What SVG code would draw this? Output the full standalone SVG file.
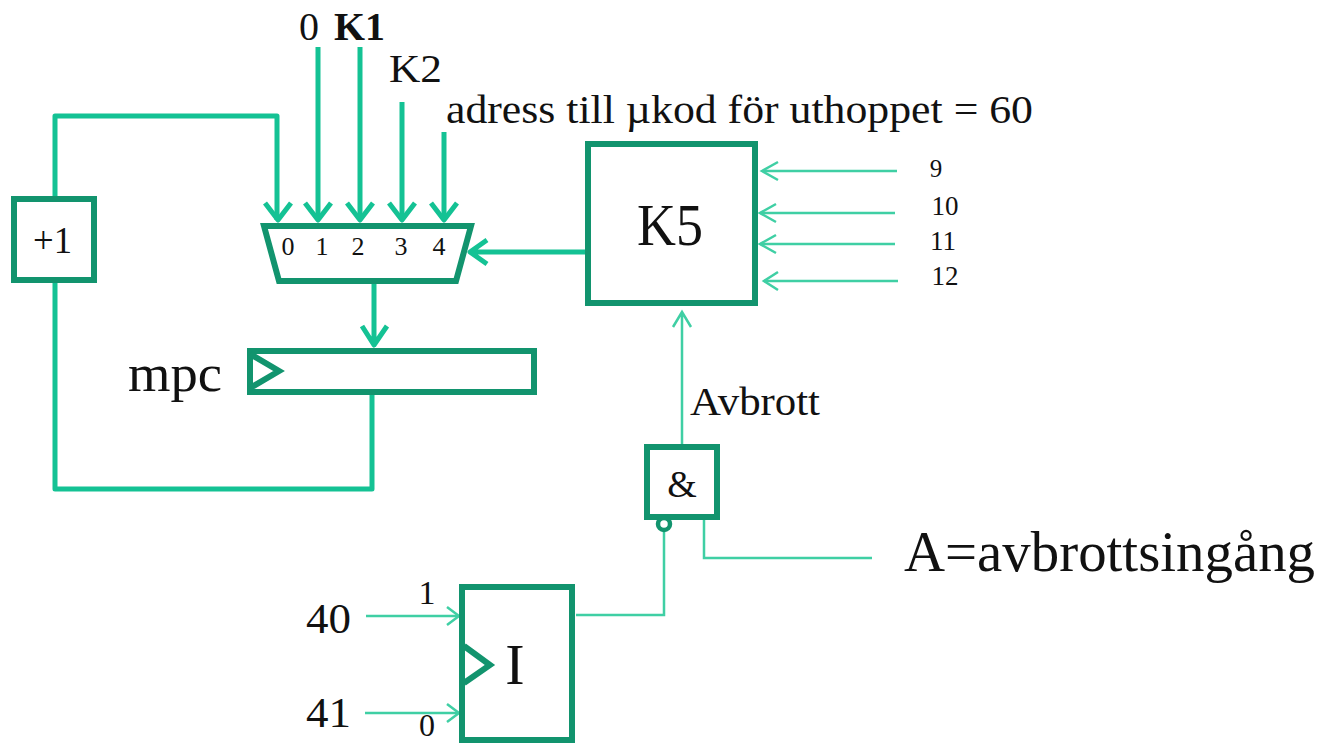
<svg xmlns="http://www.w3.org/2000/svg" width="1324" height="744" viewBox="0 0 1324 744">
<style>
text{font-family:"Liberation Serif","Times New Roman",serif;fill:#111}
.box{fill:#fff;stroke:#12946e;stroke-width:6}
.clk{fill:none;stroke:#12946e;stroke-width:6}
.bus{fill:none;stroke:#14c294;stroke-width:5;stroke-linejoin:round}
.thin{fill:none;stroke:#3fcfa4;stroke-width:2.5}
</style>
<rect width="1324" height="744" fill="#fff"/>
<g id="connectors">
<path class="bus" d="M55 197V116H277V220"/>
<path class="bus" d="M318 47V220M360 47V220M402 102V220M444 132V220"/>
<path class="bus" d="M265 203L278 220L291 203M305 203L318 220L331 203M347 203L360 220L373 203M389 203L402 220L415 203M431 203L444 220L457 203"/>
<path class="bus" d="M586 252H472M487 240L470 252L487 264"/>
<path class="bus" d="M374 283V343M362 326L374 345L387 326"/>
<path class="bus" d="M55 283V489H372V392"/>
<path class="thin" d="M897 171H762M895 213H760M895 244H760M898 281H764"/>
<path class="thin" d="M778 162L762 171L778 180M776 204L760 213L776 222M776 235L760 244L776 253M778 272L764 281L778 290"/>
<path class="thin" d="M682 446V314M673 327L682 312L691 327"/>
<path class="thin" d="M704 518V558H872"/>
<path class="thin" d="M664 532V615H576"/>
<path class="thin" d="M366 616H458M365 713H458"/>
<path class="thin" d="M447 607L459 616L447 625M447 704L459 713L447 722"/>
</g>
<g id="incrementer"><rect class="box" x="14" y="199" width="80" height="81"/><text x="33" y="253" font-size="38" textLength="39" lengthAdjust="spacingAndGlyphs">+1</text></g>
<g id="mux"><path class="box" d="M264 226H471L456 281H279Z"/>
<g font-size="26" text-anchor="middle"><text x="288" y="255">0</text><text x="322" y="255">1</text><text x="358" y="255">2</text><text x="401" y="255">3</text><text x="439" y="255">4</text></g></g>
<g id="mpc"><rect class="box" x="250" y="351" width="284" height="41"/><path class="clk" d="M250 354L279 371L250 388"/><text x="128" y="391" font-size="52" textLength="94" lengthAdjust="spacingAndGlyphs">mpc</text></g>
<g id="k5"><rect class="box" x="588" y="144" width="167" height="159"/><text x="637" y="245" font-size="60" textLength="66" lengthAdjust="spacingAndGlyphs">K5</text></g>
<g id="and"><rect class="box" x="647" y="447" width="70" height="70"/><circle cx="664" cy="524" r="6" fill="#fff" stroke="#12946e" stroke-width="4.500"/><text x="682" y="497" font-size="38" text-anchor="middle">&amp;</text></g>
<g id="ff"><rect class="box" x="462" y="587" width="110" height="153"/><path class="clk" d="M464 646L490 665L464 683"/><text x="515" y="684" font-size="58" text-anchor="middle">I</text></g>
<g id="labels">
<text x="299" y="40" font-size="40" textLength="20" lengthAdjust="spacingAndGlyphs">0</text>
<text x="334" y="40" font-size="40" font-weight="bold" textLength="51" lengthAdjust="spacingAndGlyphs">K1</text>
<text x="389" y="82" font-size="40" textLength="53" lengthAdjust="spacingAndGlyphs">K2</text>
<text x="446" y="123" font-size="40" textLength="587" lengthAdjust="spacingAndGlyphs">adress till µkod för uthoppet = 60</text>
<text x="936" y="177" font-size="25" text-anchor="middle">9</text>
<text x="945" y="215" font-size="27" text-anchor="middle">10</text>
<text x="943" y="250" font-size="27" text-anchor="middle">11</text>
<text x="945" y="285" font-size="27" text-anchor="middle">12</text>
<text x="690" y="415" font-size="40" textLength="130" lengthAdjust="spacingAndGlyphs">Avbrott</text>
<text x="904" y="571" font-size="57" textLength="411" lengthAdjust="spacingAndGlyphs">A=avbrottsingång</text>
<text x="306" y="633" font-size="42" textLength="45" lengthAdjust="spacingAndGlyphs">40</text>
<text x="306" y="727" font-size="42" textLength="45" lengthAdjust="spacingAndGlyphs">41</text>
<text x="427" y="604" font-size="34" text-anchor="middle">1</text>
<text x="427" y="736" font-size="32" text-anchor="middle">0</text>
</g>
</svg>
